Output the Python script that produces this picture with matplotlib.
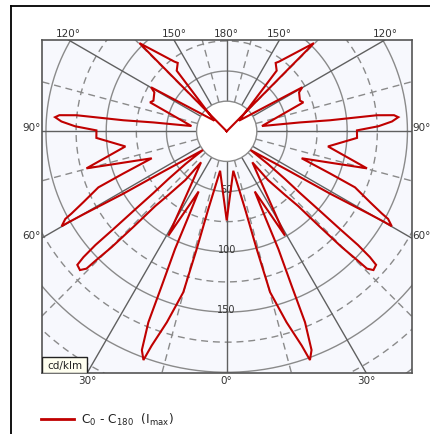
import numpy as np
import matplotlib
matplotlib.use("Agg")
import matplotlib.pyplot as plt
from matplotlib.patches import Circle, Rectangle
from matplotlib.lines import Line2D

# ---- data: C0 half-plane path (gamma in degrees from nadir, intensity in cd/klm)
gamma = [0, 9.5, 13.3, 14.3, 15.1, 17.4, 19.3, 20.0, 21.2, 22.3, 22.8, 23.7, 24.1, 25.0,
         29.2, 39.6, 40.3, 42.5, 43.7, 44.3, 44.8, 45.4, 45.6, 46.6, 48.2, 48.7, 49.1,
         49.2, 49.5, 49.9, 50.7, 51.6, 51.8, 57.6, 58.9, 59.9, 60.1, 60.1, 61.5, 62.1,
         63.7, 66.4, 67.8, 70.2, 75.2, 81.5, 87.1, 90.4, 91.9, 93.4, 94.7, 95.5, 96.1,
         96.1, 96.9, 98.5, 110.7, 112.7, 118.3, 120.2, 130.8, 140.5, 144.4, 143.1, 135.3, 180]
intensity = [74.0, 33.2, 66.2, 100.8, 138.4, 166.1, 188.5, 202.0, 194.7, 171.3, 139.0,
             106.7, 79.8, 55.1, 99.2, 33.4, 53.0, 71.7, 85.7, 110.9, 135.4, 153.2, 162.9,
             167.6, 166.3, 158.2, 144.1, 124.2, 101.8, 79.5, 62.5, 43.7, 25.1, 62.2, 100.1,
             137.5, 151.6, 158.0, 152.4, 145.6, 132.6, 116.2, 92.6, 66.1, 120.4, 85.0,
             108.3, 108.1, 125.9, 137.4, 142.9, 139.5, 125.4, 86.2, 61.3, 29.6, 68.0, 65.9,
             68.2, 72.6, 13.5, 65.2, 69.8, 72.3, 103.0, 0.0]
ring_labels = [50, 100, 150]
angle_labels_top = [120, 150, 180, 150, 120]
legend_label = r"C$_0$ - C$_{180}$  (I$_{\rm max}$)"
unit_label = "cd/klm"

RED = "#c00000"
GRID = "#8a8a8a"
RADIAL = "#606060"
BG = "#f7f8fd"

W, H = 430, 435
fig = plt.figure(figsize=(W / 100, H / 100), dpi=100)
fig.patch.set_facecolor("white")

# plot area in pixels
px_l, px_r, px_t, px_b = 41.7, 411.7, 40.7, 374.0
cx, cy = 226.7, 132.3
s = 1.205
ax = fig.add_axes([px_l / W, 1 - px_b / H, (px_r - px_l) / W, (px_b - px_t) / H])
xl, xr = (px_l - cx) / s, (px_r - cx) / s
yb, yt = -(px_b - cy) / s, (cy - px_t) / s
ax.set_xlim(xl, xr)
ax.set_ylim(yb, yt)
ax.set_facecolor(BG)
ax.set_xticks([])
ax.set_yticks([])
for sp in ax.spines.values():
    sp.set_color("#555555")
    sp.set_linewidth(1.2)

# grid circles
th = np.linspace(0, 2 * np.pi, 721)
for r in range(50, 400, 50):
    ax.plot(r * np.cos(th), r * np.sin(th), color=GRID, lw=1.0, zorder=1)
for r in range(75, 400, 50):
    ax.plot(r * np.cos(th), r * np.sin(th), color=GRID, lw=1.0, ls=(0, (5, 3.5)), zorder=1)
# radial lines
for a in range(-180, 180, 15):
    g = np.radians(a)
    rr = np.array([25, 420])
    ls = "-" if a % 30 == 0 else (0, (5, 3.5))
    col = RADIAL if a % 30 == 0 else GRID
    ax.plot(rr * np.sin(g), -rr * np.cos(g), color=col, lw=1.0, ls=ls, zorder=1)
# inner white circle
ax.add_patch(Circle((0, 0), 25, facecolor="white", edgecolor=GRID, lw=1.0, zorder=2))

# ring labels
for r in ring_labels:
    ax.text(0, -(r - 2.2), str(r), ha="center", va="center", fontsize=7,
            color="#333333", zorder=2.5)

# curve: C180 side mirrored + C0 side
g = np.radians(np.array(gamma))
I = np.array(intensity)
xr_ = I * np.sin(g)
yr_ = -I * np.cos(g)
xs = np.concatenate([-xr_[::-1], xr_[1:]])
ys = np.concatenate([yr_[::-1], yr_[1:]])
ax.plot(xs, ys, color=RED, lw=1.5, zorder=3, solid_joinstyle="miter")

# angle labels
fs = 7.5
tcol = "#333333"
top_ang = [-120, -150, 180, 150, 120]
for a, lab in zip(top_ang, angle_labels_top):
    if a == 180:
        x = 0
    else:
        x = yt * np.tan(np.radians(180 - abs(a))) * (1 if a > 0 else -1)
    ax.text(x, yt + 5.6, f"{lab}°", ha="center", va="center", fontsize=fs, color=tcol, clip_on=False)
for a in [90, 60]:
    y = 3.3 if a == 90 else -xr / np.tan(np.radians(a)) + 2.5
    ax.text(xl - 0.8, y, f"{a}°", ha="right", va="center", fontsize=fs, color=tcol, clip_on=False)
    ax.text(xr + 0.2, y, f"{a}°", ha="left", va="center", fontsize=fs, color=tcol, clip_on=False)
for a in [-30, 0, 30]:
    x = -yb * np.tan(np.radians(a))
    ax.text(x, yb - 5.8, f"{abs(a)}°", ha="center", va="center", fontsize=fs, color=tcol, clip_on=False)

# unit box
bx1 = (87.3 - cx) / s
by1 = -(358.3 - cy) / s
ax.add_patch(Rectangle((xl, yb), bx1 - xl, by1 - yb, facecolor="#fffff0", edgecolor="#222222",
                       lw=1.0, zorder=4))
ax.text((xl + bx1) / 2, (yb + by1) / 2, unit_label, ha="center", va="center", fontsize=7.5,
        color="#222222", zorder=5)

# legend
ly = 1 - 419.5 / H
fig.add_artist(Line2D([40.7 / W, 74 / W], [ly, ly], color=RED, lw=2.0))
fig.text(81 / W, ly, legend_label, ha="left", va="center", fontsize=8.8, color="#222222")

# outer frame (left and top edges visible)
fy = 1 - 7.3 / H
fx = 11 / W
fig.add_artist(Line2D([fx, fx], [0, fy], color="black", lw=1.3))
fig.add_artist(Line2D([fx, 1], [fy, fy], color="black", lw=1.3))

fig.savefig("out.png", dpi=100, facecolor="white")
